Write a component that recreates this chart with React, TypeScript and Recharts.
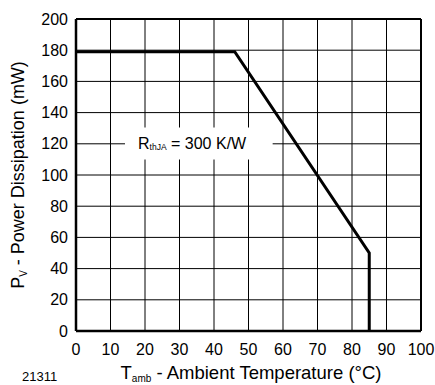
import { LineChart, Line, XAxis, YAxis, CartesianGrid, ReferenceArea, ReferenceLine } from 'recharts';

const temps = [0, 46, 85, 85];
const power = [179, 179, 50, 0];
const xTicks = [0, 10, 20, 30, 40, 50, 60, 70, 80, 90, 100];
const yTicks = [0, 20, 40, 60, 80, 100, 120, 140, 160, 180, 200];

const data = temps.map((t, i) => ({ t, p: power[i] }));

const font = '"Liberation Sans", Arial, Helvetica, sans-serif';

export default function App() {
    const YTitle = (props: any) => {
        const vb = props.viewBox;
        const cx = 18;
        const cy = vb.y + vb.height / 2;
        return (
            <text
                x={cx}
                y={cy}
                transform={`rotate(-90, ${cx}, ${cy})`}
                textAnchor="middle"
                dominantBaseline="central"
                fontFamily={font}
                fontSize={18}
                fill="#000"
            >
                P<tspan fontSize={10} dy={5}>V</tspan>
                <tspan dy={-5}> - Power Dissipation (mW)</tspan>
            </text>
        );
    };

    const XTitle = () => (
        <g>
            <text
                x={251}
                y={379}
                textAnchor="middle"
                fontFamily={font}
                fontSize={18.5}
                fill="#000"
            >
                T<tspan fontSize={10} dy={3}>amb</tspan>
                <tspan dy={-3}> - Ambient Temperature (°C)</tspan>
            </text>
            <text x={22} y={381} fontFamily={font} fontSize={13} fill="#000">21311</text>
        </g>
    );

    const RLabel = (props: any) => {
        const vb = props.viewBox;
        return (
            <text
                x={138}
                y={vb.y + vb.height / 2}
                textAnchor="start"
                dominantBaseline="central"
                fontFamily={font}
                fontSize={16}
                fill="#000"
            >
                R<tspan fontSize={8.5} dy={4}>thJA</tspan>
                <tspan dy={-4}> = 300 K/W</tspan>
            </text>
        );
    };

    return (
        <div style={{ position: 'absolute', left: 0, top: 0, background: '#fff' }}>
            <LineChart width={435} height={385} data={data} margin={{ top: 19, right: 14, bottom: 24, left: 0 }}>
                <CartesianGrid stroke="#000" strokeWidth={1} />
                <XAxis
                    dataKey="t"
                    type="number"
                    domain={[0, 100]}
                    ticks={xTicks}
                    interval={0}
                    height={30}
                    tickLine={false}
                    tickMargin={7}
                    axisLine={{ stroke: '#000', strokeWidth: 2.5 }}
                    tick={{ fill: '#000', fontSize: 16, fontFamily: font }}
                    label={{ content: XTitle }}
                />
                <YAxis
                    type="number"
                    domain={[0, 200]}
                    ticks={yTicks}
                    interval={0}
                    width={76}
                    tickLine={false}
                    axisLine={{ stroke: '#000', strokeWidth: 2.5 }}
                    tick={{ fill: '#000', fontSize: 16, fontFamily: font }}
                    label={{ content: YTitle }}
                />
                <ReferenceLine y={200} stroke="#000" strokeWidth={2} />
                <ReferenceLine x={100} stroke="#000" strokeWidth={2} />
                <ReferenceArea
                    x1={14.2}
                    x2={57}
                    y1={110}
                    y2={130.5}
                    fill="#fff"
                    fillOpacity={1}
                    stroke="none"
                    label={{ content: RLabel }}
                />
                <Line
                    type="linear"
                    dataKey="p"
                    stroke="#000"
                    strokeWidth={3}
                    dot={false}
                    isAnimationActive={false}
                />
            </LineChart>
        </div>
    );
}
